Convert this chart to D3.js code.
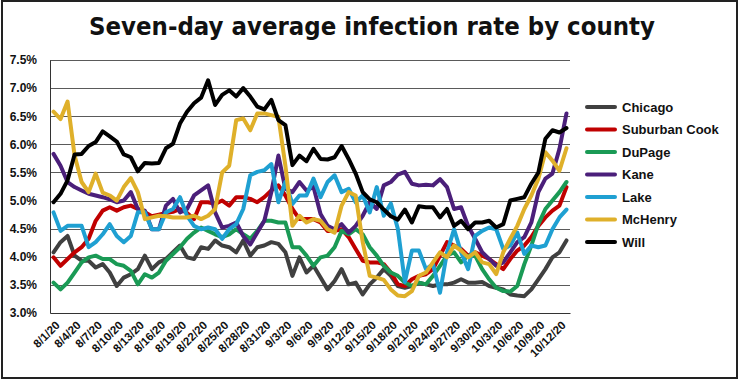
<!DOCTYPE html>
<html>
<head>
<meta charset="utf-8">
<script src="https://cdn.jsdelivr.net/npm/d3@7"></script>
<style>
  body { margin: 0; background: #fff; }
  svg { display: block; }
  text { font-family: "Liberation Sans", Arial, sans-serif; font-weight: bold; fill: #111; }
</style>
</head>
<body>
<div id="chart"></div>
<script>
// daily categories 8/1/20 .. 10/13/20
const dates = d3.timeDay.range(new Date(2020, 7, 1), new Date(2020, 9, 14));
const yTicks = [3.0, 3.5, 4.0, 4.5, 5.0, 5.5, 6.0, 6.5, 7.0, 7.5];

const countyNames = ["Chicago", "Suburban Cook", "DuPage", "Kane", "Lake", "McHenry", "Will"];
const countyColors = ["#404040", "#c00000", "#1a9a55", "#4b1f7a", "#1fa0d2", "#dfb02a", "#000000"];

const chicago = [4.08,4.26,4.37,4.02,3.93,3.93,3.81,3.87,3.72,3.48,
  3.63,3.69,3.78,4.02,3.78,3.90,3.96,4.08,4.20,3.99,
  3.96,4.17,4.14,4.29,4.20,4.17,4.08,4.29,4.02,4.17,
  4.20,4.26,4.23,4.08,3.66,3.99,3.72,3.84,3.63,3.42,
  3.57,3.78,3.51,3.54,3.33,3.51,3.63,3.78,3.66,3.48,
  3.45,3.48,3.54,3.51,3.48,3.51,3.51,3.54,3.60,3.54,
  3.54,3.55,3.48,3.45,3.42,3.33,3.31,3.30,3.42,3.60,
  3.78,3.99,4.08,4.29];
const suburbanCook = [3.99,3.84,3.96,4.08,4.17,4.32,4.64,4.82,4.88,4.82,
  4.88,4.91,4.85,4.79,4.72,4.75,4.78,4.80,4.85,4.78,
  4.67,4.97,4.97,4.94,5.00,4.91,5.06,5.06,5.03,4.97,
  5.06,5.18,5.27,5.09,4.85,4.67,4.67,4.67,4.61,4.46,
  4.46,4.49,4.35,4.14,3.93,3.90,3.90,3.87,3.72,3.51,
  3.48,3.60,3.66,3.69,3.78,4.02,4.26,4.20,4.14,4.02,
  4.08,4.02,3.96,3.87,3.78,3.96,4.11,4.20,4.35,4.55,
  4.70,4.82,4.91,5.24];
const duPage = [3.54,3.42,3.54,3.72,3.90,3.99,4.02,3.96,3.96,3.87,
  3.84,3.75,3.51,3.69,3.63,3.72,3.93,4.05,4.17,4.32,
  4.43,4.52,4.46,4.40,4.35,4.40,4.49,4.40,4.32,4.46,
  4.64,4.64,4.61,4.61,4.17,4.17,4.02,3.84,3.99,4.02,
  4.17,4.46,4.40,4.49,4.40,4.17,4.02,3.84,3.72,3.66,
  3.54,3.48,3.54,3.51,3.66,3.84,4.02,4.08,3.90,4.02,
  4.02,3.78,3.60,3.45,3.39,3.38,3.48,3.87,4.20,4.58,
  4.85,5.00,5.15,5.33];
const kane = [5.83,5.62,5.33,5.24,5.18,5.12,5.09,5.06,5.02,4.97,
  5.00,5.15,4.85,4.82,4.49,4.49,4.91,5.03,4.79,4.85,
  5.09,5.18,5.27,4.79,4.52,4.55,4.61,4.37,4.22,4.43,
  4.64,5.15,5.80,5.21,5.15,5.33,5.18,5.24,4.76,4.55,
  4.49,4.58,4.43,4.55,4.73,4.97,4.85,5.27,5.33,5.46,
  5.51,5.30,5.27,5.28,5.27,5.38,5.24,4.85,4.88,4.55,
  4.32,4.08,3.96,3.84,3.90,4.08,4.26,4.35,4.61,5.15,
  5.39,5.48,5.92,6.55];
const lake = [4.79,4.46,4.55,4.55,4.55,4.17,4.26,4.40,4.58,4.37,
  4.26,4.37,4.79,4.79,4.49,4.49,4.79,4.85,5.06,4.73,
  4.55,4.49,4.52,4.49,4.32,4.49,4.58,4.85,5.45,5.51,
  5.54,5.65,4.97,5.33,4.94,5.09,5.09,5.39,5.06,5.33,
  5.45,5.15,5.21,4.97,5.09,4.79,5.24,4.73,4.95,4.50,
  3.55,4.11,4.11,3.78,3.87,3.36,4.08,4.49,4.08,3.78,
  4.37,4.46,4.52,4.49,4.14,4.20,4.43,4.05,4.20,4.17,
  4.20,4.49,4.70,4.84];
const mcHenry = [6.58,6.45,6.76,5.80,5.33,5.15,5.48,5.14,5.09,5.00,
  5.24,5.40,5.15,4.67,4.70,4.73,4.72,4.70,4.70,4.70,
  4.73,4.67,4.73,4.85,5.50,5.62,6.43,6.46,6.25,6.55,
  6.55,6.52,6.49,5.62,4.55,4.73,4.61,4.67,4.64,4.49,
  4.43,4.91,5.15,5.09,4.26,3.66,3.63,3.59,3.42,3.31,
  3.30,3.39,3.66,3.72,3.90,4.08,3.99,4.20,4.11,3.99,
  4.08,3.90,3.87,3.69,4.08,4.32,4.55,4.85,5.09,5.39,
  5.86,5.71,5.53,5.93];
const will = [4.97,5.12,5.36,5.82,5.83,5.97,6.04,6.23,6.14,6.05,
  5.82,5.77,5.52,5.67,5.66,5.67,5.93,6.01,6.37,6.58,
  6.73,6.83,7.14,6.70,6.88,6.96,6.85,7.00,6.85,6.67,
  6.62,6.79,6.43,6.34,5.63,5.80,5.70,5.92,5.74,5.73,
  5.77,5.97,5.74,5.48,5.15,5.02,4.97,4.84,4.72,4.66,
  4.84,4.61,4.90,4.88,4.88,4.70,4.85,4.55,4.64,4.49,
  4.61,4.61,4.64,4.52,4.58,5.00,5.03,5.06,5.30,5.50,
  6.10,6.25,6.21,6.29];

const seriesValues = [chicago, suburbanCook, duPage, kane, lake, mcHenry, will];

const W = 744, H = 381;
const plot = { left: 50, right: 570, top: 60, bottom: 313 };

const svg = d3.select("#chart").append("svg")
    .attr("width", W)
    .attr("height", H);

svg.append("rect")
    .attr("x", 0).attr("y", 0).attr("width", W).attr("height", H)
    .attr("fill", "#fff");

svg.append("rect")
    .attr("x", 2).attr("y", 1).attr("width", 735).attr("height", 377)
    .attr("fill", "none")
    .attr("stroke", "#222")
    .attr("stroke-width", 2);

svg.append("text")
    .attr("x", 372)
    .attr("y", 35)
    .attr("text-anchor", "middle")
    .attr("textLength", 566)
    .attr("lengthAdjust", "spacingAndGlyphs")
    .style("font-size", "25px")
    .style("font-family", "'DejaVu Sans', sans-serif")
    .text("Seven-day average infection rate by county");

const x = d3.scaleBand()
    .domain(d3.range(dates.length))
    .range([plot.left, plot.right]);
const xc = i => x(i) + x.bandwidth() / 2;

const y = d3.scaleLinear()
    .domain([3.0, 7.5])
    .range([plot.bottom, plot.top]);

// gridlines
svg.append("g")
    .selectAll("line")
    .data(yTicks.slice(1))
    .enter()
    .append("line")
    .attr("x1", plot.left)
    .attr("x2", plot.right)
    .attr("y1", d => Math.round(y(d)) + 0.5)
    .attr("y2", d => Math.round(y(d)) + 0.5)
    .attr("stroke", "#5a5a5a")
    .attr("stroke-width", 1);

const yAxis = svg.append("g")
    .attr("transform", `translate(${plot.left},0)`)
    .call(d3.axisLeft(y).tickValues(yTicks).tickSize(0).tickPadding(13)
        .tickFormat(d => d.toFixed(1) + "%"));
yAxis.select(".domain").attr("stroke", "#333");
yAxis.selectAll("text")
    .style("font-size", "12px")
    .style("font-family", "'Liberation Sans', Arial, sans-serif");

const fmt = d3.timeFormat("%-m/%-d/%y");
const xAxis = svg.append("g")
    .attr("transform", `translate(0,${plot.bottom})`)
    .call(d3.axisBottom(x)
        .tickValues(d3.range(0, dates.length, 3))
        .tickSize(0)
        .tickFormat(i => fmt(dates[i])));
xAxis.select(".domain").attr("stroke", "#333");
xAxis.selectAll("text")
    .attr("text-anchor", "end")
    .attr("x", 0)
    .attr("y", 0)
    .attr("dy", 0)
    .attr("transform", "translate(7,13) rotate(-45)")
    .style("font-size", "11.5px");

const line = d3.line()
    .x((d, i) => xc(i))
    .y(d => y(d));

svg.append("g")
    .selectAll("path")
    .data(seriesValues)
    .enter()
    .append("path")
    .attr("d", d => line(d))
    .attr("fill", "none")
    .attr("stroke", (d, i) => countyColors[i])
    .attr("stroke-width", 4)
    .attr("stroke-linejoin", "round")
    .attr("stroke-linecap", "round");

const legend = svg.append("g")
    .selectAll("g")
    .data(countyNames)
    .enter()
    .append("g")
    .attr("transform", (d, i) => `translate(587,${107 + i * 22.5})`);

legend.append("line")
    .attr("x1", 0).attr("x2", 28)
    .attr("stroke", (d, i) => countyColors[i])
    .attr("stroke-width", 4)
    .attr("stroke-linecap", "round");

legend.append("text")
    .attr("x", 35)
    .attr("dy", "0.36em")
    .style("font-size", "13px")
    .text(d => d);
</script>
</body>
</html>
